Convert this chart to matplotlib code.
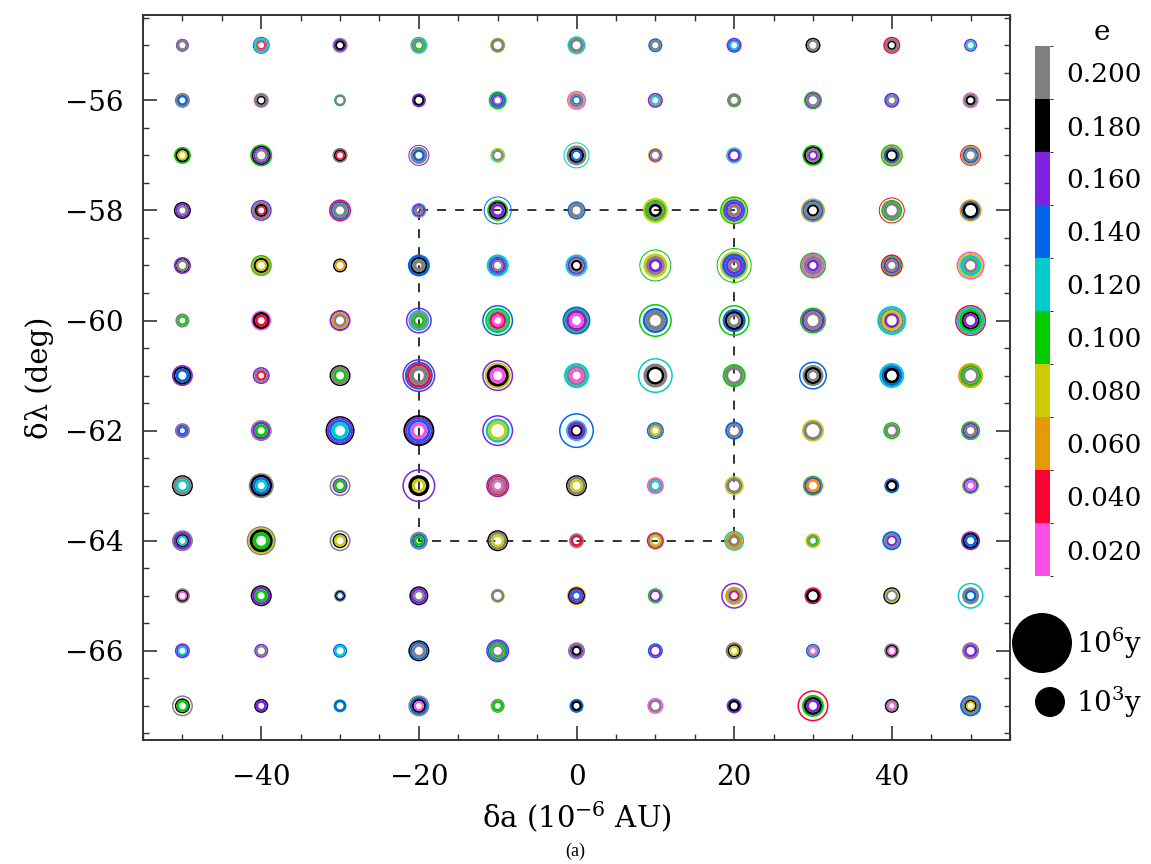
import numpy as np
import matplotlib.pyplot as plt
from matplotlib.colors import ListedColormap, BoundaryNorm
import matplotlib.colorbar as mcolorbar

plt.rcParams['font.family'] = ['DejaVu Serif']
plt.rcParams['mathtext.fontset'] = 'dejavuserif'

# eccentricity classes and their colours
e_vals = [0.020, 0.040, 0.060, 0.080, 0.100, 0.120, 0.140, 0.160, 0.180, 0.200]
e_colors = ['#ff4de6', '#ff0033', '#e69900', '#cccc00', '#00cc00',
            '#00cccc', '#0066e6', '#8020e0', '#000000', '#808080']
e_codes = 'mroygcbpkx'

da = [-50, -40, -30, -20, -10, 0, 10, 20, 30, 40, 50]
dlam = [-55, -56, -57, -58, -59, -60, -61, -62, -63, -64, -65, -66, -67]

# rings per grid point, outer to inner: <e code><log10 t x10>[:<inner>]
row_55 = ["p13 x12:6", "b17:15 c15:12 x12:8 r8:6", "x15:13 p13:10 k10:6", "c17:14 x14:9 g9:6",
          "y15 x14:8", "c18:15 x15:8", "b14:11 x11:6", "p15:12 b12:9 c9:6",
          "k15:12 x12:7", "r17:14 x14:9 k9:6", "p13:10 c10:6"]
row_56 = ["x15:11 b11:6", "m15 x14:9 k9:6", "c12 x11:7", "p14:11 k11:7",
          "g18:15 b15:12 p12:8 x8:6", "m19:16 o16:14 x14:9 b9:6", "p15:12 x12:9 c9:6", "g14 x13:7",
          "g18:16 p16:13 x13:8", "p15:12 b12:10 x10:6", "m16:14 x14:10 k10:6"]
row_57 = ["g17:14 k14:10 y10:6", "g22:19 k19:16 p16:12 x12:8", "x15:12 k12:9 r9:6", "p21:19 x17:12 b12:7",
          "y15:13 c13:11 x11:7", "c26:24 x20:15 k15:11 b11:7", "y15:13 p13:10 x10:7", "c16:13 p13:8",
          "g21:18 k18:14 x14:10 p10:6", "g22:19 o19:16 b16:12 k12:8", "r21:19 o19:16 b16:12 x12:8"]
row_58 = ["k17:14 p14:10 x10:6", "p21:18 x18:13 k13:9 r9:6", "r22:19 b19:15 x15:8", "c15:13 p13:9 x9:4",
          "b28:26 g21:18 k18:14 p14:8", "b18:15 x15:8", "y25:21 g21:17 x17:13 k13:8",
          "g28:25 y25:22 b22:18 p18:13 x13:6",
          "o24:21 b21:17 x17:12 k12:8", "r26:24 g21:17 x17:10", "o22:19 b19:16 k16:11"]
row_59 = ["p17:14 k14:12 x12:7", "g21:18 o18:15 k15:11 y11:7", "k14:11 o11:7", "b22:17 k17:13 x13:5",
          "c22:18 b18:15 p15:11 x11:7", "c22:18 p18:14 x14:11 k11:7", "g32:30 y24:19 x19:14 p14:8",
          "g35:33 y28:24 b24:18 p18:12 x12:6",
          "g26:23 m23:19 x19:12 p12:7", "r22:19 g19:16 p16:12 x12:7", "m28:25 y25:21 c21:15 x15:9"]
row_60 = ["x14:10 g10:6", "m20:17 k17:12 r12:7", "p21:17 o17:13 x13:8", "p26:23 c21:17 x17:12 g12:7",
          "b31:28 g25:21 c21:17 r17:12 m12:7", "b28:24 g24:21 p21:15 m15:9", "g33:30 b25:20 x20:11",
          "g31:28 b23:19 k19:14 x14:8",
          "g26:23 p23:18 x18:11", "c29:24 x24:20 y20:15 p15:10", "r31:28 c28:23 g23:18 k18:14 p14:9"]
row_61 = ["p21:18 k18:14 b14:8", "p17:14 x14:10 r10:6", "k21:18 x18:13 g13:8", "p33:30 b28:24 r24:19 x19:10",
          "p31:28 y26:22 k22:16 m16:9", "c25:20 x20:14 m14:8", "c35:32 x24:18 k18:13", "g23:19 x19:12",
          "b28:25 x21:17 k17:12 x12:7", "c25:21 b21:16 k16:10", "o25:21 g21:16 x16:11"]
row_62 = ["x15:12 p12:9 b9:5", "x21:18 p18:13 g13:7", "k29:26 p26:22 b22:17 c17:10", "k31:27 p27:23 b23:17 m17:10",
          "p31:28 c24:19 y19:13", "b35:32 c21:18 p18:12 k12:8", "b17:14 x14:10 y10:6", "b18:14 x14:9",
          "y22:19 x19:13", "g17:14 x14:8", "g19:16 p16:12 x12:7"]
row_63 = ["k21:18 x18:13 c13:8", "x25:22 k22:17 b17:12 c12:7", "x21:18 p15:12 g12:7", "p33:30 k21:14 y14:8",
          "p23:20 r20:17 x17:11 m11:7", "k21:18 x18:13 y13:8", "m17:14 x14:11 c11:7", "y19:16 x16:10",
          "g20:17 p17:13 o13:8", "b15:12 k12:7", "o17:15 b15:11 m11:6"]
row_64 = ["x21:18 p18:13 k13:10 c10:6", "x29:26 y26:23 k23:17 g17:10", "x21:18 k15:12 y12:7", "x18:14 b14:10 g10:5",
          "k21:18 x18:13 y13:8", "x15:12 r12:7", "r17:14 x14:11 y11:7", "c20:17 o17:12 x12:6",
          "y15:12 x12:9 g9:6", "b19:15 x15:11 p11:7", "p19:16 k16:12 b12:7"]
row_65 = ["x15:12 k12:9 m9:6", "k21:18 p18:13 g13:7", "x12:10 k10:7 b7:5", "k19:16 p16:11 x11:7",
          "y14 x13:8", "y19:17 k17:14 p14:10 b10:6", "g15:12 p12:8", "p26:23 o18:14 c14:11 r11:7",
          "r17:14 k14:9", "k17:14 y14:12 x12:8", "c26:23 x17:12 b12:7"]
row_66 = ["p15:12 b12:9 c9:6", "p14:11 x11:7", "b14:11 c11:7", "k21:18 b18:14 x14:8",
          "p23:20 b20:17 g17:13 x13:8", "x17:13 p13:10 k10:6", "b15:12 p12:8", "x17:13 k13:10 y10:6",
          "b14:11 x11:8 m8:5", "x15:12 k12:9 m9:6", "x17:13 p13:8"]
row_67 = ["x21:18 k15:12 g12:7", "k14:11 p11:6", "g13 b12:7", "x21:18 b18:14 k14:10 m10:6",
          "x14:11 g11:6", "b14:11 k11:6", "m16:13 x13:8", "p15:12 k12:7",
          "r31:28 g22:18 k18:13 p13:8", "k14:11 x11:8 m8:5", "b21:17 x17:12 k12:9 y9:6"]
rows = [row_55, row_56, row_57, row_58, row_59, row_60, row_61,
        row_62, row_63, row_64, row_65, row_66, row_67]

# region of interest
box_a = [-20, 20]
box_lam = [-64, -58]

# legend lifetimes (years)
leg_t = [1e6, 1e3]
leg_lab = [r'10$^{6}$y', r'10$^{3}$y']

PX = 0.5 * 0.72       # points per 0.1 in log10(t)
THIN = 1.1            # line width of a single ring, pt

fig = plt.figure(figsize=(11.51, 8.64), dpi=100)
ax = fig.add_axes([143 / 1151, 1 - 740 / 864, 867 / 1151, 725 / 864])

xs, ys, ss, lws, cs = [], [], [], [], []
for lam, row in zip(dlam, rows):
    for a, cell in zip(da, row):
        for tok in cell.split():
            col = e_colors[e_codes.index(tok[0])]
            parts = [float(v) for v in tok[1:].split(':')]
            if len(parts) == 2:
                r = (parts[0] + parts[1]) / 2 * PX
                lw = (parts[0] - parts[1]) * PX
            else:
                r = parts[0] * PX - THIN / 2
                lw = THIN
            xs.append(a)
            ys.append(lam)
            ss.append((2 * r) ** 2)
            lws.append(lw)
            cs.append(col)

ax.plot([box_a[0], box_a[1], box_a[1], box_a[0], box_a[0]],
        [box_lam[1], box_lam[1], box_lam[0], box_lam[0], box_lam[1]],
        color='#222222', ls=(0, (5, 5)), lw=1.3, zorder=1)
ax.scatter(xs, ys, s=ss, facecolors='none', edgecolors=cs, linewidths=lws, zorder=2)

ax.set_xlim(-55, 55)
ax.set_ylim(-67.62, -54.45)
ax.set_xticks(np.arange(-40, 41, 20))
ax.set_xticks(np.arange(-55, 56, 5), minor=True)
ax.set_yticks(np.arange(-66, -55, 2))
ax.set_yticks(np.arange(-67.5, -54.4, 0.5), minor=True)
ax.set_xticklabels(['\u221240', '\u221220', '0', '20', '40'])
ax.set_yticklabels(['\u221266', '\u221264', '\u221262', '\u221260', '\u221258', '\u221256'])
ax.tick_params(which='both', direction='in', top=True, right=True, color='#333333')
ax.tick_params(which='major', length=10, width=1.2, labelsize=20)
ax.tick_params(which='minor', length=4.5, width=1.0)
ax.tick_params(axis='x', which='major', pad=17)
ax.tick_params(axis='y', which='major', pad=14)
for sp in ax.spines.values():
    sp.set_linewidth(1.4)
    sp.set_color('#333333')
ax.set_xlabel('\u03b4a (10$^{-6}$ AU)', fontsize=21, labelpad=6)
ax.set_ylabel('\u03b4\u03bb (deg)', fontsize=21, labelpad=8)

# colour scale for e
cax = fig.add_axes([1035 / 1151, 1 - 576 / 864, 15 / 1151, 530 / 864])
cmap = ListedColormap(e_colors)
bounds = np.concatenate([[e_vals[0] - 0.01], np.array(e_vals) + 0.01])
norm = BoundaryNorm(bounds, cmap.N)
cb = mcolorbar.ColorbarBase(cax, cmap=cmap, norm=norm, ticks=e_vals, format='%.3f')
cb.outline.set_visible(False)
cax.tick_params(length=0, labelsize=19, pad=12)
fig.text(1102 / 1151, 1 - 32 / 864, 'e', fontsize=20, ha='center', va='center')

# lifetime size key
lax = fig.add_axes([0, 0, 1, 1])
lax.set_xlim(0, 1151)
lax.set_ylim(864, 0)
lax.axis('off')
leg_x = [1042, 1050]
leg_y = [643, 702]
for t, lab, x, y in zip(leg_t, leg_lab, leg_x, leg_y):
    r = np.log10(t) * 10 * PX
    lax.scatter([x], [y], s=(2 * r) ** 2, color='black', edgecolors='none')
    lax.text(1076, y, lab, fontsize=20, ha='left', va='center')

fig.text(575 / 1151, 1 - 851 / 864, '(a)', fontsize=13, ha='center', va='center',
         family='Liberation Serif')

fig.savefig('out.png', dpi=100)
